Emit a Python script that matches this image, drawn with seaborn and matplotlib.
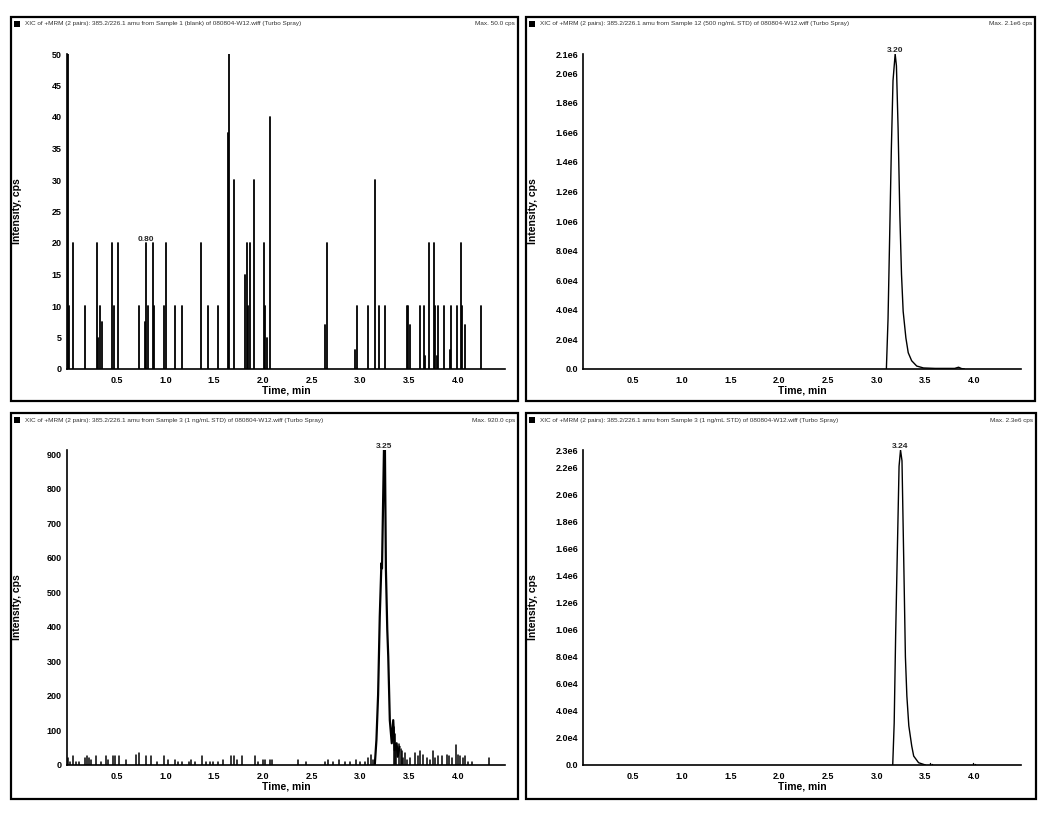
import matplotlib
matplotlib.use('Agg')
import numpy as np
import pandas as pd
import matplotlib.pyplot as plt
import seaborn as sns
from matplotlib.patches import Rectangle

# --- datos leidos del cromatograma -------------------------------------------
# blanco (arriba izq.): picos aislados
blank_t = [0.00, 0.01, 0.05, 0.18, 0.30, 0.31, 0.33, 0.35, 0.45, 0.47, 0.52, 0.73, 0.79, 0.80, 0.82,
           0.87, 0.88, 0.99, 1.01, 1.10, 1.17, 1.37, 1.44, 1.54, 1.64, 1.655, 1.70, 1.82, 1.84, 1.85,
           1.87, 1.91, 2.01, 2.02, 2.04, 2.07, 2.64, 2.66, 2.94, 2.96, 3.08, 3.15, 3.19, 3.25, 3.48,
           3.49, 3.51, 3.61, 3.65, 3.66, 3.70, 3.75, 3.76, 3.78, 3.79, 3.86, 3.92, 3.93, 3.99, 4.03,
           4.04, 4.07, 4.23]
blank_i = [50, 10, 20, 10, 20, 5, 10, 7.5, 20, 10, 20, 10, 7.5, 20, 10,
           20, 10, 10, 20, 10, 10, 20, 10, 10, 37.5, 50, 30, 15, 20, 10,
           20, 30, 20, 10, 5, 40, 7, 20, 3, 10, 10, 30, 10, 10, 10,
           10, 7, 10, 10, 2, 20, 20, 10, 2, 10, 10, 3, 10, 10, 20,
           10, 7, 10]

# estandar alto (arriba der.)
std_t = [3.10, 3.117, 3.134, 3.151, 3.168, 3.19, 3.203, 3.220, 3.238, 3.255, 3.272, 3.300,
         3.324, 3.359, 3.411, 3.480, 3.60, 3.80, 3.84, 3.87, 3.90]
std_i = [0, 0.34e6, 0.91e6, 1.49e6, 1.95e6, 2.13e6, 2.05e6, 1.63e6, 1.04e6, 0.64e6, 0.39e6, 0.21e6,
         0.11e6, 0.056e6, 0.02e6, 0.007e6, 0.004e6, 0.004e6, 0.012e6, 0.003e6, 0]

# estandar bajo (abajo izq.): pico + ruido
low_t = [3.146, 3.163, 3.18, 3.197, 3.214, 3.22, 3.24, 3.25, 3.26, 3.274, 3.284, 3.30, 3.32,
         3.335, 3.35, 3.37, 3.38, 3.40]
low_i = [0, 73, 203, 430, 585, 570, 913, 913, 566, 392, 314, 130, 63, 130, 43, 63, 24, 53]
noise_t = [0.0, 0.022, 0.056, 0.083, 0.117, 0.175, 0.199, 0.22, 0.243, 0.288, 0.345, 0.39, 0.414,
           0.465, 0.489, 0.527, 0.602, 0.70, 0.732, 0.807, 0.858, 0.91, 0.984, 1.029, 1.097, 1.131,
           1.175, 1.244, 1.268, 1.302, 1.38, 1.421, 1.456, 1.49, 1.541, 1.593, 1.678, 1.702, 1.736,
           1.787, 1.917, 1.951, 2.002, 2.02, 2.077, 2.098, 2.361, 2.44, 2.634, 2.668, 2.72, 2.781,
           2.839, 2.89, 2.958, 2.999, 3.044, 3.078, 3.112, 3.129,
           3.34, 3.355, 3.365, 3.39, 3.41, 3.42, 3.437, 3.454, 3.478, 3.505, 3.557, 3.59, 3.614,
           3.642, 3.676, 3.71, 3.744, 3.761, 3.795, 3.83, 3.881, 3.908, 3.932, 3.977, 4.0, 4.024,
           4.052, 4.069, 4.103, 4.137, 4.318]
noise_i = [20, 10, 25, 10, 10, 20, 25, 20, 15, 25, 10, 25, 15,
           25, 25, 25, 15, 30, 35, 25, 25, 10, 25, 15, 15, 10,
           10, 10, 15, 10, 25, 10, 10, 10, 10, 15, 25, 25, 15,
           25, 25, 10, 15, 15, 15, 15, 15, 10, 10, 15, 10, 15,
           10, 10, 15, 10, 10, 20, 30, 15,
           110, 90, 60, 60, 45, 40, 20, 35, 15, 20, 35, 25, 40,
           30, 20, 15, 40, 20, 25, 25, 30, 25, 20, 58, 30, 25,
           20, 25, 10, 10, 20]

# estandar bajo, otra transicion (abajo der.)
low2_t = [3.165, 3.18, 3.195, 3.21, 3.23, 3.245, 3.26, 3.28, 3.295, 3.31, 3.33, 3.36, 3.38, 3.43, 3.50]
low2_i = [0, 0.31e6, 0.96e6, 1.50e6, 2.21e6, 2.33e6, 2.25e6, 1.43e6, 0.80e6, 0.51e6, 0.29e6,
          0.14e6, 0.066e6, 0.017e6, 0]
blip_t = [3.55, 3.57, 3.99, 4.01]
blip_i = [0.012e6, 0.01e6, 0.012e6, 0.01e6]

titulos = [
    "XIC of +MRM (2 pairs): 385.2/226.1 amu from Sample 1 (blank) of 080804-W12.wiff (Turbo Spray)",
    "XIC of +MRM (2 pairs): 385.2/226.1 amu from Sample 12 (500 ng/mL STD) of 080804-W12.wiff (Turbo Spray)",
    "XIC of +MRM (2 pairs): 385.2/226.1 amu from Sample 3 (1 ng/mL STD) of 080804-W12.wiff (Turbo Spray)",
    "XIC of +MRM (2 pairs): 385.2/226.1 amu from Sample 3 (1 ng/mL STD) of 080804-W12.wiff (Turbo Spray)",
]
maximos = ["Max. 50.0 cps", "Max. 2.1e6 cps", "Max. 920.0 cps", "Max. 2.3e6 cps"]
picos = ["0.80", "3.20", "3.25", "3.24"]
pico_t = [0.80, 3.19, 3.245, 3.245]
pico_y = [20, 2.13e6, 913, 2.33e6]

x_ticks = [0.5, 1.0, 1.5, 2.0, 2.5, 3.0, 3.5, 4.0]
y_ticks_blank = [0, 5, 10, 15, 20, 25, 30, 35, 40, 45, 50]
y_ticks_low = [0, 100, 200, 300, 400, 500, 600, 700, 800, 900]
y_ticks_std = [0, 0.2e6, 0.4e6, 0.6e6, 0.8e6, 1.0e6, 1.2e6, 1.4e6, 1.6e6, 1.8e6, 2.0e6, 2.13e6]
y_lab_std = ["0.0", "2.0e4", "4.0e4", "6.0e4", "8.0e4", "1.0e6", "1.2e6", "1.4e6", "1.6e6",
             "1.8e6", "2.0e6", "2.1e6"]
y_ticks_low2 = [0, 0.2e6, 0.4e6, 0.6e6, 0.8e6, 1.0e6, 1.2e6, 1.4e6, 1.6e6, 1.8e6, 2.0e6, 2.2e6, 2.33e6]
y_lab_low2 = ["0.0", "2.0e4", "4.0e4", "6.0e4", "8.0e4", "1.0e6", "1.2e6", "1.4e6", "1.6e6",
              "1.8e6", "2.0e6", "2.2e6", "2.3e6"]


def sticks(t, h):
    filas = []
    for k, (x, y) in enumerate(zip(t, h)):
        filas.append((k, x, 0.0))
        filas.append((k, x, y))
    return pd.DataFrame(filas, columns=['id', 't', 'i'])


sns.set_theme(style="white")
plt.rcParams['font.family'] = ['Liberation Sans', 'DejaVu Sans']

W, H = 1050, 814
fig = plt.figure(figsize=(10.5, 8.14), dpi=100)


def caja(x0, y0, x1, y1, **kw):
    fig.add_artist(Rectangle((x0 / W, 1 - y1 / H), (x1 - x0) / W, (y1 - y0) / H,
                             transform=fig.transFigure, **kw))


cajas = [(11, 17, 518, 401), (526, 17, 1035, 401), (11, 413, 518, 799), (526, 413, 1036, 799)]
ejes = [(66.7, 54, 505, 369), (583, 54, 1021, 369), (66.7, 450, 505, 765), (583, 450, 1021, 765)]

axes = []
for n in range(4):
    x0, y0, x1, y1 = cajas[n]
    caja(x0, y0, x1, y1, fill=False, lw=1.6, ec='black')
    caja(x0 + 3, y0 + 4, x0 + 9, y0 + 10, fill=True, color='black', lw=0)
    fig.text((x0 + 14) / W, 1 - (y0 + 7) / H, titulos[n], fontsize=4.6, color='#333333',
             ha='left', va='center')
    fig.text((x1 - 3) / W, 1 - (y0 + 7) / H, maximos[n], fontsize=4.6, color='#333333',
             ha='right', va='center')
    a0, b0, a1, b1 = ejes[n]
    ax = fig.add_axes([a0 / W, 1 - b1 / H, (a1 - a0) / W, (b1 - b0) / H])
    axes.append(ax)

ax1, ax2, ax3, ax4 = axes

sns.lineplot(data=sticks(blank_t, blank_i), x='t', y='i', units='id', estimator=None,
             color='black', lw=1.3, ax=ax1, legend=False)
ax1.set_ylim(0, 50)
ax1.set_yticks(y_ticks_blank)

sns.lineplot(x=std_t, y=std_i, estimator=None, sort=False, color='black', lw=1.0, ax=ax2)
ax2.set_ylim(0, 2.13e6)
ax2.set_yticks(y_ticks_std, y_lab_std)

sns.lineplot(data=sticks(noise_t, noise_i), x='t', y='i', units='id', estimator=None,
             color='black', lw=1.1, ax=ax3, legend=False)
sns.lineplot(x=low_t, y=low_i, estimator=None, sort=False, color='black', lw=1.6, ax=ax3)
ax3.set_ylim(0, 913)
ax3.set_yticks(y_ticks_low)

sns.lineplot(x=low2_t, y=low2_i, estimator=None, sort=False, color='black', lw=1.0, ax=ax4)
sns.lineplot(data=sticks(blip_t, blip_i), x='t', y='i', units='id', estimator=None,
             color='black', lw=1.0, ax=ax4, legend=False)
ax4.set_ylim(0, 2.33e6)
ax4.set_yticks(y_ticks_low2, y_lab_low2)

for n, ax in enumerate(axes):
    ax.set_xlim(-0.01, 4.48)
    ax.set_xticks(x_ticks, [f"{v:.1f}" for v in x_ticks])
    ax.set_facecolor('white')
    sns.despine(ax=ax)
    for s in ['left', 'bottom']:
        ax.spines[s].set_color('black')
        ax.spines[s].set_linewidth(1.2)
    ax.tick_params(axis='both', length=0, labelsize=6.5, colors='black')
    ax.tick_params(axis='x', pad=5)
    ax.tick_params(axis='y', pad=3.5)
    for lab in ax.get_xticklabels() + ax.get_yticklabels():
        lab.set_fontweight('bold')
    ax.set_xlabel('Time, min', fontsize=7.5, fontweight='bold', color='black')
    ax.set_ylabel('Intensity, cps', fontsize=7.5, fontweight='bold', color='black')
    ax.xaxis.set_label_coords(0.5, -0.052)
    ax.yaxis.set_label_coords(-0.102, 0.5)
    ax.text(pico_t[n], pico_y[n], picos[n], fontsize=6, fontweight='bold', ha='center',
            va='bottom', clip_on=False)
    ax.grid(False)

plt.savefig('out.png', dpi=100)
